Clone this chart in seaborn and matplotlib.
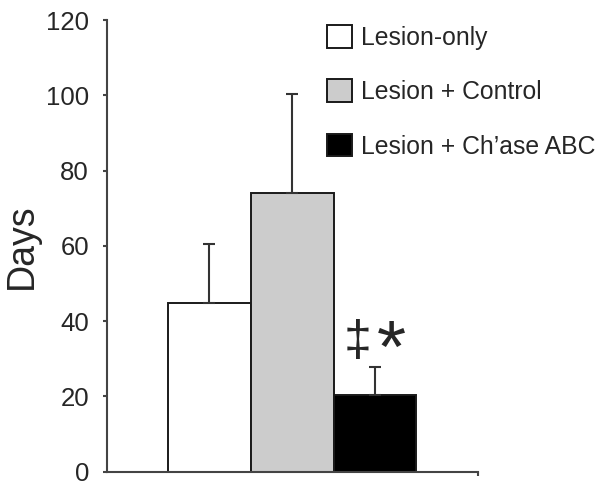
import numpy as np
import matplotlib
matplotlib.use("Agg")
import matplotlib.pyplot as plt
import seaborn as sns

groups = ["Lesion-only", "Lesion + Control", "Lesion + Ch\u2019ase ABC"]
days = [44.7, 74.1, 20.3]
sem = [15.8, 26.2, 7.4]
bar_colors = ["#ffffff", "#cccccc", "#000000"]
y_ticks = [0, 20, 40, 60, 80, 100, 120]

sns.set_style("white")
plt.rcParams["font.family"] = ["Liberation Sans", "DejaVu Sans"]

fig = plt.figure(figsize=(6.01, 4.94), dpi=100)
ax = fig.add_axes([0.178, 0.045, 0.617, 0.9145])

sns.barplot(x=groups, y=days, hue=groups, palette=bar_colors, width=1.0,
            edgecolor="#1a1a1a", linewidth=1.4, legend=True, ax=ax)

ax.errorbar(range(len(groups)), days, yerr=[np.zeros(len(sem)), sem],
            fmt="none", ecolor="#333333", elinewidth=1.5, capsize=4,
            capthick=1.5, zorder=1)

ax.set_xlim(-1.235, 3.24)
ax.set_ylim(0, 120)
ax.set_yticks(y_ticks)
ax.set_xticks([3.24])
ax.set_xticklabels([""])
ax.tick_params(axis="y", labelsize=18.5, length=3, width=1.5, pad=10,
               color="#444444", left=True)
ax.tick_params(axis="x", length=3, width=1.5, color="#444444", bottom=True)
ax.set_ylabel("Days", fontsize=27, labelpad=4)
ax.set_xlabel("")
sns.despine(ax=ax)
for side in ["left", "bottom"]:
    ax.spines[side].set_color("#444444")
    ax.spines[side].set_linewidth(1.5)

ax.text(1.79, 31, "\u2021", fontsize=36, ha="center", va="baseline")
ax.text(2.2, 26.5, "*", fontsize=54, ha="center", va="baseline")

handles, labels = ax.get_legend_handles_labels()
ax.legend(handles, labels, loc="upper left", bbox_to_anchor=(327 / 601, 1 - 25 / 494),
          bbox_transform=fig.transFigure, frameon=False, fontsize=17.8,
          handlelength=1.03, handleheight=1.03, handletextpad=0.33,
          labelspacing=1.2, borderpad=0, borderaxespad=0)

fig.savefig("out.png", dpi=100)
